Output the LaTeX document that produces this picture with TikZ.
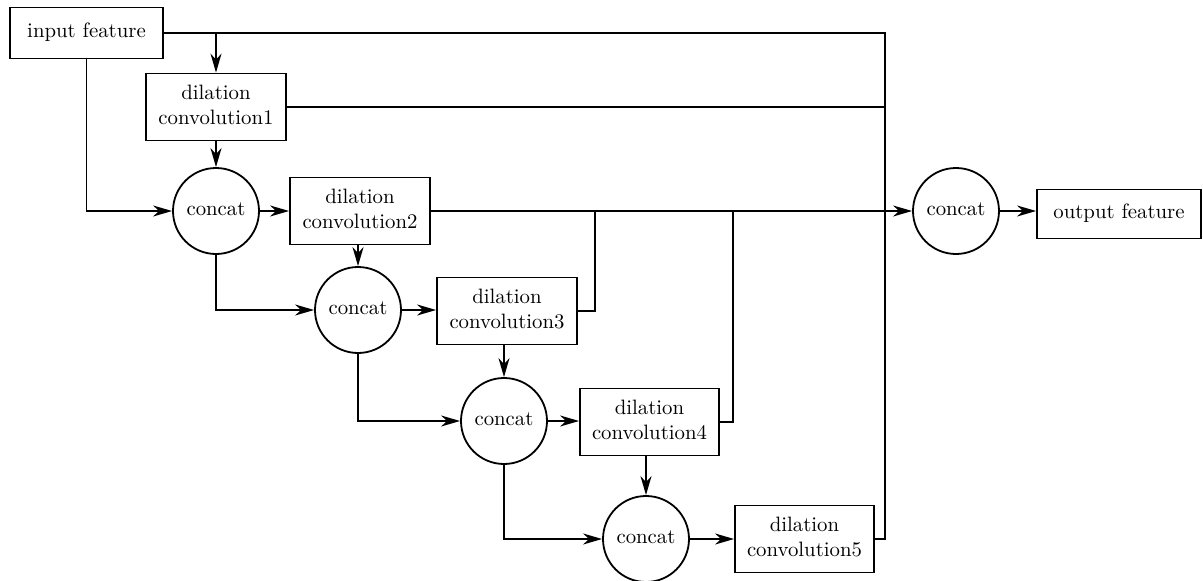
\documentclass[tikz,border=0pt]{standalone}
\usepackage{graphicx}
\usetikzlibrary{arrows.meta}
\newcommand\T[1]{\scalebox{2.08}{\begin{tabular}{@{}c@{}}#1\end{tabular}}}
\begin{document}
\begin{tikzpicture}[x=1pt,y=-1pt, line width=1.8pt,
  box/.style={draw, rectangle, align=center, inner sep=0pt, minimum width=140pt, minimum height=67pt},
  cc/.style={draw, circle, minimum size=86pt, inner sep=0pt},
  arr/.style={-{Stealth[length=19pt,width=11pt,inset=6pt]}}]
\useasboundingbox (0,0) rectangle (1203,581);
\node[box, minimum width=153pt, minimum height=51pt] (in) at (86.5,33) {\T{input feature}};
\node[box] (d1) at (216,107) {\T{dilation\\convolution1}};
\node[box] (d2) at (360,211) {\T{dilation\\convolution2}};
\node[box] (d3) at (507,311) {\T{dilation\\convolution3}};
\node[box, minimum width=139pt] (d4) at (649.5,422) {\T{dilation\\convolution4}};
\node[box, minimum width=139pt] (d5) at (804.5,539) {\T{dilation\\convolution5}};
\node[box, minimum width=164pt, minimum height=49pt] (out) at (1119,214) {\T{output feature}};
\node[cc] (c1) at (216,211) {\T{concat}};
\node[cc] (c2) at (358,310) {\T{concat}};
\node[cc] (c3) at (504,421) {\T{concat}};
\node[cc] (c4) at (646,539) {\T{concat}};
\node[cc] (c5) at (956,211) {\T{concat}};
\coordinate (rt) at (885,33);
\coordinate (j3) at (595,211);
\coordinate (j4) at (733,211);
\draw (in.east) -- (rt) -- (rt |- d5.east) -- (d5.east);
\draw[arr] (in.east -| d1.north) -- (d1.north);
\draw (d1.east) -- (d1.east -| rt);
\draw[arr] (in.south) |- (c1.west);
\draw[arr] (d1.south) -- (c1.north);
\draw[arr] (c1.east) -- (c1.east -| d2.west);
\draw[arr] (d2.east) -- (c5.west);
\draw[arr] (c2.north |- d2.south) -- (c2.north);
\draw[arr] (c1.south) |- (c2.west);
\draw[arr] (c2.east) -- (c2.east -| d3.west);
\draw (d3.east) -| (j3);
\draw[arr] (c3.north |- d3.south) -- (c3.north);
\draw[arr] (c2.south) |- (c3.west);
\draw[arr] (c3.east) -- (c3.east -| d4.west);
\draw (d4.east) -| (j4);
\draw[arr] (c4.north |- d4.south) -- (c4.north);
\draw[arr] (c3.south) |- (c4.west);
\draw[arr] (c4.east) -- (c4.east -| d5.west);
\draw[arr] (c5.east) -- (c5.east -| out.west);
\end{tikzpicture}
\end{document}
